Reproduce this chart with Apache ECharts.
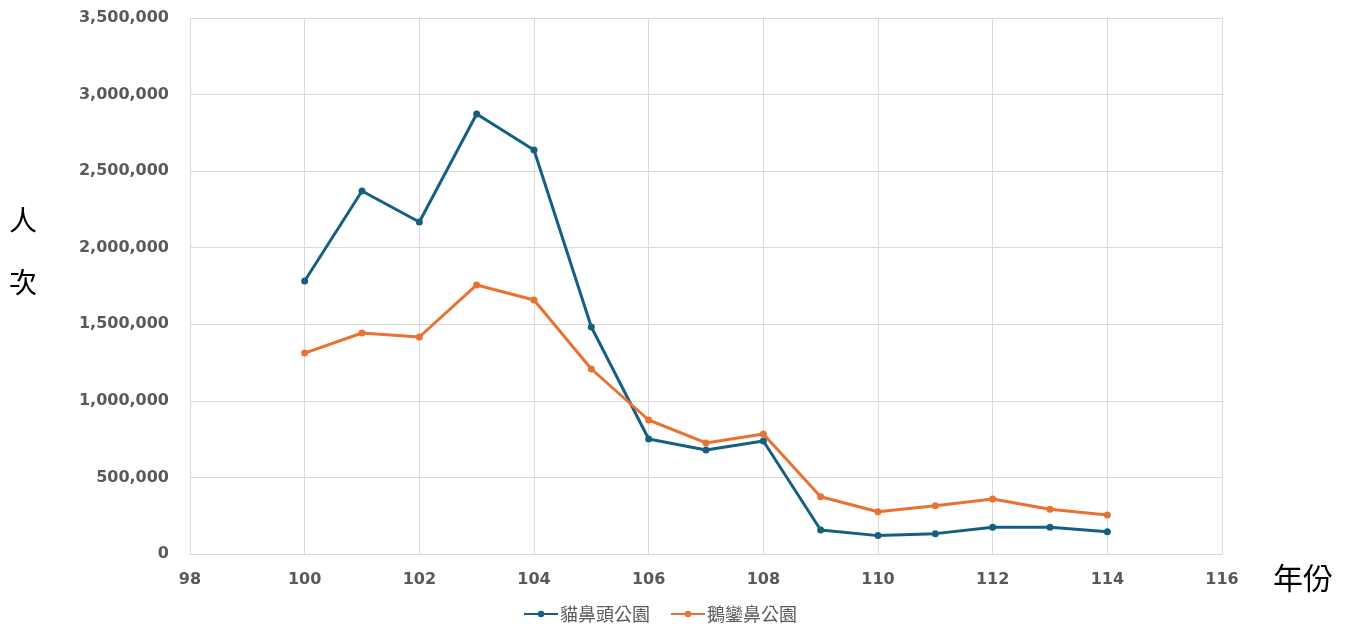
<!DOCTYPE html>
<html><head><meta charset="utf-8">
<script src="https://cdn.jsdelivr.net/npm/echarts@6/dist/echarts.min.js"></script>
<style>html,body{margin:0;padding:0;background:#fff}#c{width:1350px;height:626px}</style>
</head><body><div id="c"></div>
<script>
const years = [100,101,102,103,104,105,106,107,108,109,110,111,112,113,114];
const maobitou = [1783000,2370000,2168000,2873000,2638000,1482000,751000,679000,738000,157000,120000,133000,174000,174000,146000];
const eluanbi = [1312000,1443000,1417000,1757000,1659000,1208000,875000,725000,784000,374000,276000,315000,359000,292000,255000];
const seriesNames = ['貓鼻頭公園','鵝鑾鼻公園'];

const chart = echarts.init(document.getElementById('c'));
const labelStyle = {color:'#595959', fontSize:16, fontWeight:'bold', fontFamily:'DejaVu Sans, Verdana, sans-serif'};
function pairs(v){return years.map((y,i)=>[y,v[i]]);}
chart.setOption({
  animation:false,
  grid:{left:190, right:128, top:18, bottom:72},
  legend:{bottom:3, left:523, padding:0, itemWidth:34, itemHeight:8, itemGap:20,
    textStyle:{color:'#595959', fontSize:18, fontFamily:'Noto Sans CJK TC', padding:[0,0,0,-3]},
    data:seriesNames},
  xAxis:{type:'value', min:98, max:116, interval:2,
    axisLine:{show:true, lineStyle:{color:'#d9d9d9'}}, axisTick:{show:false},
    splitLine:{show:true, lineStyle:{color:'#d9d9d9'}},
    axisLabel:Object.assign({margin:18}, labelStyle)},
  yAxis:{type:'value', min:0, max:3500000, interval:500000,
    axisLine:{show:true, lineStyle:{color:'#d9d9d9'}}, axisTick:{show:false},
    splitLine:{show:true, lineStyle:{color:'#d9d9d9'}},
    axisLabel:Object.assign({margin:21, formatter:v=>v.toLocaleString('en-US')}, labelStyle)},
  graphic:[
    {type:'text', left:9, top:206, style:{text:'人', fontSize:28, fill:'#000', fontFamily:'Noto Sans CJK TC'}},
    {type:'text', left:9, top:268, style:{text:'次', fontSize:28, fill:'#000', fontFamily:'Noto Sans CJK TC'}},
    {type:'text', left:1273, top:563, style:{text:'年份', fontSize:30, fill:'#000', fontFamily:'Noto Sans CJK TC'}}
  ],
  series:[
    {name:seriesNames[0], type:'line', data:pairs(maobitou), symbol:'circle', symbolSize:7,
     lineStyle:{width:3, color:'#156082'}, itemStyle:{color:'#156082'}},
    {name:seriesNames[1], type:'line', data:pairs(eluanbi), symbol:'circle', symbolSize:7,
     lineStyle:{width:3, color:'#E97132'}, itemStyle:{color:'#E97132'}}
  ]
});
</script></body></html>
